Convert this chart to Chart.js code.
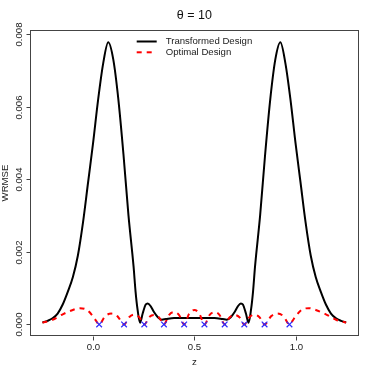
<!DOCTYPE html>
<html>
<head>
<meta charset="utf-8">
<script src="https://cdn.jsdelivr.net/npm/chart.js@4/dist/chart.umd.min.js"></script>
<style>
  html, body { margin: 0; padding: 0; background: #fff; }
  canvas { display: block; }
</style>
</head>
<body>
<canvas id="wrmse" width="374" height="374"></canvas>
<script>
// valeurs
const titleText = 'θ = 10';
const xLabel = 'z';
const yLabel = 'WRMSE';
const seriesNames = ['Transformed Design', 'Optimal Design'];

const xTicks = [0.0, 0.5, 1.0];
const yTicks = [0.000, 0.002, 0.004, 0.006, 0.008];

// Transformed Design (courbe noire)
const transZ = [-0.25, -0.225, -0.2, -0.175, -0.15, -0.125, -0.1, -0.075, -0.05, -0.025,
  0, 0.025, 0.05, 0.075, 0.1, 0.125, 0.15, 0.175, 0.2, 0.21, 0.22, 0.232,
  0.245, 0.26, 0.27, 0.285, 0.3, 0.32, 0.34, 0.36, 0.4, 0.45, 0.5,
  0.55, 0.6, 0.64, 0.66, 0.68, 0.7, 0.715, 0.73, 0.74, 0.755, 0.768,
  0.78, 0.79, 0.8, 0.825, 0.85, 0.875, 0.9, 0.925, 0.95, 0.975, 1.0,
  1.025, 1.05, 1.075, 1.1, 1.125, 1.15, 1.175, 1.2, 1.225, 1.25];
const transWRMSE = [0.00005, 0.0001, 0.00017, 0.0003, 0.00055, 0.0009, 0.0013, 0.0019, 0.0028, 0.0039,
  0.0050, 0.0062, 0.0072, 0.00778, 0.0073, 0.0062, 0.0047, 0.0030, 0.0016, 0.0009, 0.0004, 0.00005,
  0.0003, 0.00055, 0.00058, 0.0005, 0.00035, 0.0002, 0.00013, 0.00015, 0.00018, 0.00018, 0.00018,
  0.00018, 0.00018, 0.00015, 0.00013, 0.0002, 0.00035, 0.0005, 0.00058, 0.00055, 0.0003, 0.00005,
  0.0004, 0.0009, 0.0016, 0.0030, 0.0047, 0.0062, 0.0073, 0.00778, 0.0072, 0.0062, 0.0050,
  0.0039, 0.0028, 0.0019, 0.0013, 0.0009, 0.00055, 0.0003, 0.00017, 0.0001, 0.00005];

// Optimal Design (courbe rouge en tirets)
const optZ = [-0.25, -0.2, -0.15, -0.1, -0.065, -0.03, 0.0, 0.015, 0.03,
  0.06, 0.09, 0.12, 0.153,
  0.178, 0.203, 0.228, 0.253,
  0.277, 0.3, 0.325, 0.35,
  0.375, 0.4, 0.425, 0.45,
  0.475, 0.5, 0.525, 0.55,
  0.575, 0.6, 0.625, 0.65,
  0.675, 0.7, 0.723, 0.747,
  0.772, 0.797, 0.822, 0.847,
  0.88, 0.91, 0.94, 0.97,
  0.985, 1.0, 1.03, 1.065, 1.1, 1.15, 1.2, 1.25];
const optWRMSE = [0.00005, 0.00013, 0.00028, 0.0004, 0.00045, 0.0004, 0.00022, 0.0001, 0,
  0.00023, 0.0003, 0.00023, 0,
  0.0002, 0.00027, 0.0002, 0,
  0.0002, 0.00026, 0.0002, 0,
  0.00026, 0.00034, 0.00026, 0,
  0.0003, 0.0004, 0.0003, 0,
  0.00026, 0.00034, 0.00026, 0,
  0.0002, 0.00026, 0.0002, 0,
  0.0002, 0.00027, 0.0002, 0,
  0.00023, 0.0003, 0.00023, 0,
  0.0001, 0.00022, 0.0004, 0.00045, 0.0004, 0.00028, 0.00013, 0.00005];

// points du plan (croix bleues)
const designZ = [0.03, 0.153, 0.253, 0.35, 0.45, 0.55, 0.65, 0.747, 0.847, 0.97];
const designY = [0, 0, 0, 0, 0, 0, 0, 0, 0, 0];

const toPoints = (xs, ys) => xs.map((x, i) => ({ x: x, y: ys[i] }));

const FONT = '"Liberation Sans", Arial, Helvetica, sans-serif';
const BOX = '#444';
const TXT = '#222';

// Dessine le cadre, les graduations, les textes et la légende façon R
const rDecor = {
    id: 'rDecor',
    afterDraw(chart) {
        const ctx = chart.ctx;
        const area = chart.chartArea;
        const xs = chart.scales.x;
        const ys = chart.scales.y;
        ctx.save();

        ctx.strokeStyle = BOX;
        ctx.lineWidth = 1;
        ctx.strokeRect(Math.round(area.left) + 0.5, Math.round(area.top) + 0.5,
            Math.round(area.right - area.left), Math.round(area.bottom - area.top));

        ctx.fillStyle = TXT;
        ctx.font = '9.6px ' + FONT;
        ctx.textAlign = 'center';
        ctx.textBaseline = 'middle';

        // axe x
        const yb = Math.round(area.bottom) + 0.5;
        xTicks.forEach(v => {
            const px = Math.round(xs.getPixelForValue(v)) + 0.5;
            ctx.beginPath();
            ctx.moveTo(px, yb);
            ctx.lineTo(px, yb + 4);
            ctx.stroke();
            ctx.fillText(v.toFixed(1), px, 347.7);
        });

        // axe y (étiquettes verticales)
        const xl = Math.round(area.left) + 0.5;
        yTicks.forEach(v => {
            const py = Math.round(ys.getPixelForValue(v)) + 0.5;
            ctx.beginPath();
            ctx.moveTo(xl, py);
            ctx.lineTo(xl - 4, py);
            ctx.stroke();
            ctx.save();
            ctx.translate(19.3, py);
            ctx.rotate(-Math.PI / 2);
            ctx.fillText(v.toFixed(3), 0, 0);
            ctx.restore();
        });

        ctx.fillText(xLabel, (area.left + area.right) / 2, 362);
        ctx.save();
        ctx.translate(5, (area.top + area.bottom) / 2);
        ctx.rotate(-Math.PI / 2);
        ctx.fillText(yLabel, 0, 0);
        ctx.restore();

        ctx.font = '12.5px ' + FONT;
        ctx.fillStyle = '#111';
        ctx.fillText(titleText, (area.left + area.right) / 2, 16);

        // légende
        ctx.font = '9.6px ' + FONT;
        ctx.textAlign = 'left';
        ctx.fillStyle = TXT;
        ctx.lineWidth = 2;
        ctx.strokeStyle = '#000';
        ctx.beginPath();
        ctx.moveTo(136.7, 41.5);
        ctx.lineTo(156.7, 41.5);
        ctx.stroke();
        ctx.fillText(seriesNames[0], 165.7, 41.5);
        ctx.strokeStyle = '#ff0000';
        ctx.setLineDash([5, 5]);
        ctx.beginPath();
        ctx.moveTo(136.7, 52.3);
        ctx.lineTo(156.7, 52.3);
        ctx.stroke();
        ctx.setLineDash([]);
        ctx.fillText(seriesNames[1], 165.7, 52.3);

        ctx.restore();
    }
};

const chart = new Chart(document.getElementById('wrmse').getContext('2d'), {
    type: 'scatter',
    data: {
        datasets: [
            {
                label: 'design',
                data: toPoints(designZ, designY),
                showLine: false,
                pointStyle: 'crossRot',
                pointRadius: 4,
                pointBorderWidth: 1.2,
                borderColor: '#2a2aff',
                backgroundColor: '#2a2aff'
            },
            {
                label: seriesNames[1],
                data: toPoints(optZ, optWRMSE),
                showLine: true,
                borderColor: '#ff0000',
                borderWidth: 2,
                borderDash: [5, 5],
                pointRadius: 0,
                cubicInterpolationMode: 'monotone'
            },
            {
                label: seriesNames[0],
                data: toPoints(transZ, transWRMSE),
                showLine: true,
                borderColor: '#000000',
                borderWidth: 2,
                pointRadius: 0,
                cubicInterpolationMode: 'monotone'
            }
        ]
    },
    options: {
        responsive: false,
        animation: false,
        devicePixelRatio: 1,
        layout: { padding: { left: 0, top: 30.3, right: 15.7, bottom: 0 } },
        scales: {
            x: {
                type: 'linear',
                min: -0.31,
                max: 1.31,
                grid: { display: false },
                border: { display: false },
                ticks: { display: false },
                afterFit: s => { s.height = 38.3; }
            },
            y: {
                type: 'linear',
                min: -0.00031,
                max: 0.00811,
                grid: { display: false },
                border: { display: false },
                ticks: { display: false },
                afterFit: s => { s.width = 30.3; }
            }
        },
        plugins: {
            legend: { display: false },
            title: { display: false },
            tooltip: { enabled: false }
        }
    },
    plugins: [rDecor]
});
</script>
</body>
</html>
